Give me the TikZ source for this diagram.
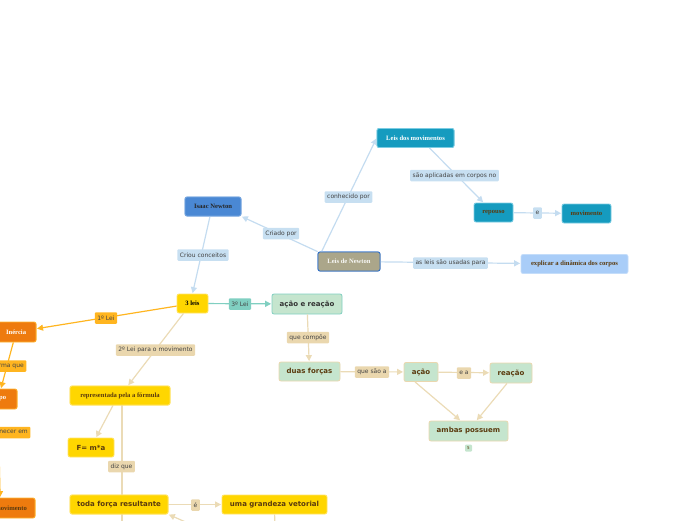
\documentclass[tikz,border=0pt]{standalone}
\usepackage{fontspec}
\setmainfont{Liberation Serif}
\newfontfamily\dvs{DejaVu Sans}
\usetikzlibrary{arrows.meta}
\definecolor{bline}{HTML}{C4DCF0}
\definecolor{blab}{HTML}{C7DFF1}
\definecolor{wline}{HTML}{EBDBB6}
\definecolor{wlab}{HTML}{EAD7AE}
\definecolor{tline}{HTML}{80CFC1}
\definecolor{oline}{HTML}{FFB520}
\definecolor{gold}{HTML}{FFD600}
\definecolor{goldb}{HTML}{FFE46A}
\definecolor{orn}{HTML}{EE7B0E}
\definecolor{ornb}{HTML}{FFB530}
\definecolor{teal}{HTML}{159BBF}
\definecolor{tealb}{HTML}{7CCDE3}
\definecolor{khaki}{HTML}{ABA68A}
\definecolor{khakib}{HTML}{2F6FC8}
\definecolor{inblue}{HTML}{4A88D4}
\definecolor{inblueb}{HTML}{7AA8E0}
\definecolor{lblue}{HTML}{A9CDF8}
\definecolor{lblueb}{HTML}{C4DDFA}
\definecolor{lgreen}{HTML}{C5E5CE}
\definecolor{brown}{HTML}{5A3A0E}
\definecolor{lgray}{HTML}{444444}
\tikzset{
  box/.style={rounded corners=2pt, inner sep=0pt, minimum height=19pt, line width=0.8pt},
  serifb/.style={font=\fontsize{6.6}{7}\selectfont\bfseries},
  sansb/.style={font=\dvs\fontsize{7}{8}\selectfont\bfseries},
  lbl/.style={rounded corners=1pt, inner xsep=2.5pt, inner ysep=0pt, minimum height=11.5pt, font=\dvs\fontsize{6}{7}\selectfont, text=lgray},
  bl/.style={lbl, fill=blab},
  wl/.style={lbl, fill=wlab},
  ol/.style={lbl, fill=oline},
  tl/.style={lbl, fill=tline},
  arr/.style={-{Triangle[width=6pt,length=6pt]}, line width=1.2pt, shorten >=0.5pt},
  bar/.style={arr, draw=bline},
  war/.style={arr, draw=wline},
  oar/.style={arr, draw=oline},
  tar/.style={arr, draw=tline},
  bln/.style={line width=1.2pt, draw=bline},
  wln/.style={line width=1.2pt, draw=wline},
  gbox/.style={box, fill=gold, draw=goldb},
  grbox/.style={box, fill=lgreen, draw=wlab, sansb, text=brown},
  lnbox/.style={box, fill=khaki, draw=khakib, serifb, text=white!92!khaki, minimum width=62pt},
  lmbox/.style={box, fill=teal, draw=tealb, serifb, text=white, minimum width=77pt},
  inbox/.style={box, fill=inblue, draw=inblueb, serifb, text=black!85, minimum width=56pt},
  tfbox/.style={gbox, sansb, text=brown, minimum width=98pt},
  rpbox/.style={gbox, serifb, text=brown, minimum width=100pt},
}
\begin{document}
\begin{tikzpicture}[x=1pt,y=-1pt]
\useasboundingbox (0,0) rectangle (696,520);
\clip (0,0) rectangle (696,520);
% nodes
\node[lnbox] (ln) at (349,261.5) {Leis de Newton};
\node[lmbox] (lm) at (415.5,138) {Leis dos movimentos};
\node[inbox] (in) at (213,206.5) {Isaac Newton};
\node[box, fill=teal, draw=tealb, serifb, text=brown, minimum width=39pt] (rep) at (493.5,212.5) {repouso};
\node[box, fill=teal, draw=tealb, serifb, text=brown, minimum width=49pt] (mov) at (586.5,213.5) {movimento};
\node[box, fill=lblue, draw=lblueb, serifb, text=brown, minimum width=107pt] (exp) at (574.5,264) {explicar a din\^amica dos corpos};
\node[gbox, serifb, text=black, minimum width=31pt] (tl3) at (192.5,303.5) {3 leis};
\node[box, fill=lgreen, draw=tline, sansb, text=black!80, minimum width=70pt, minimum height=20pt] (aer) at (307,304) {ação e reação};
\node[grbox, minimum width=61pt] (df) at (309.5,371.5) {duas forças};
\node[grbox, minimum width=34pt] (ac) at (421,372) {ação};
\node[grbox, minimum width=42pt, minimum height=20pt] (re) at (511,373) {reação};
\node[grbox, minimum width=79pt, minimum height=20pt] (amb) at (468.5,431) {ambas possuem};
\node[rounded corners=1pt, fill=lgreen, inner sep=0pt, minimum width=7pt, minimum height=7pt, font=\dvs\fontsize{4}{5}\selectfont, text=brown] (five) at (468.5,448) {5};
\node[box, fill=orn, draw=ornb, serifb, text=white, minimum width=40pt, minimum height=20pt, anchor=east] (ine) at (36.5,332) {Inércia};
\node[box, fill=orn, draw=ornb, serifb, text=white, minimum width=38pt, minimum height=20pt, anchor=east] (cor) at (17.5,399) {corpo};
\node[box, fill=orn, draw=ornb, serifb, text=brown, minimum width=48pt, minimum height=20pt, anchor=east] (emm) at (35.5,508) {movimento};
\node[rpbox] (rpf) at (120,395.5) {representada pela a fórmula};
\node[gbox, sansb, text=brown, minimum width=46pt] (fma) at (91,447.5) {F= m*a};
\node[tfbox] (tfr) at (119,504.5) {toda força resultante};
\node[gbox, sansb, text=brown, minimum width=105pt] (ugv) at (274.5,504.5) {uma grandeza vetorial};
\coordinate (bot1) at (122,540);
\coordinate (bot2) at (215,535);
\coordinate (bot3) at (275,545);
% edges
\draw[bar] (ln.north west) -- (in.south east);
\draw[bar] ([xshift=4pt]ln.north west) -- (lm.west);
\draw[bar] ([xshift=-25pt]lm.south east) -- ([xshift=-10pt]rep.north);
\draw[bar] (rep) -- (mov);
\draw[bar] (ln) -- (exp);
\draw[bar] ([xshift=-3pt]in.south) -- (tl3.north);
\draw[tar] (tl3) -- (aer);
\draw[oar] (tl3) -- (ine);
\draw[oar] (ine) -- (cor);
\draw[oar] (cor.south) -- ([xshift=-11pt]emm.north);
\draw[war] ([xshift=-9pt]tl3.south) -- ([xshift=8pt]rpf.north);
\draw[war] ([xshift=-7pt]rpf.south) -- ([xshift=5pt]fma.north);
\draw[wln] ([xshift=2pt]rpf.south) -- (bot1);
\draw[war] (tfr) -- (ugv);
\draw[war] (bot2) -- (tfr.south east);
\draw[wln] (ugv) -- (bot3);
\draw[war] (aer) -- (df);
\draw[war] (df) -- (ac);
\draw[war] (ac) -- (re);
\draw[war] ([xshift=-6pt]ac.south) -- ([xshift=-8pt]amb.north);
\draw[war] ([xshift=-4pt]re.south) -- ([xshift=8pt]amb.north);
% redraw nodes crossed by edges on top
\node[lnbox] at (ln) {Leis de Newton};
\node[lmbox] at (lm) {Leis dos movimentos};
\node[inbox] at (in) {Isaac Newton};
\node[tfbox] at (tfr) {toda força resultante};
\node[rpbox] at (rpf) {representada pela a fórmula};
% labels
\node[bl] (l1) at (281,233.5) {Criado por};
\node[bl] (l2) at (348.5,197) {conhecido por};
\node[bl] (l3) at (454.5,175.5) {são aplicadas em corpos no};
\node[bl] (l4) at (537.5,213) {e};
\node[bl] (l5) at (450.5,263) {as leis são usadas para};
\node[bl] (l6) at (203,255) {Criou conceitos};
\node[tl] (l7) at (240,304) {3º Lei};
\node[ol] (l8) at (106,318) {1º Lei};
\node[wl] (l9) at (155.5,350) {2º Lei para o movimento};
\node[wl] (l10) at (308,337.5) {que compõe};
\node[wl] (l11) at (372,372) {que são a};
\node[wl] (l12) at (464,373) {e a};
\node[wl] (l13) at (121.5,466.5) {diz que};
\node[wl] (l14) at (195.5,505) {é};
\node[ol, anchor=east] (l15) at (26.5,366) {de forma que};
\node[ol, anchor=east] (l16) at (30.5,432.5) {permanecer em};
\end{tikzpicture}
\end{document}
